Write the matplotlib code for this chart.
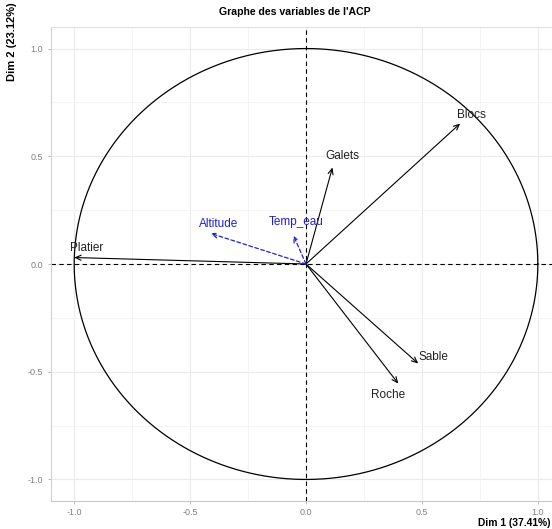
import numpy as np
import matplotlib.pyplot as plt

# correlations des variables avec les axes
actives = ["Platier", "Blocs", "Galets", "Sable", "Roche"]
act_dim1 = [-1.00, 0.665, 0.114, 0.484, 0.398]
act_dim2 = [0.03, 0.652, 0.448, -0.462, -0.555]

supp = ["Altitude", "Temp_eau"]
supp_dim1 = [-0.411, -0.054]
supp_dim2 = [0.142, 0.132]

ticks = [-1.0, -0.5, 0.0, 0.5, 1.0]
tick_labels = ["-1.0", "-0.5", "0.0", "0.5", "1.0"]

# decalage des etiquettes (en points)
offsets = {
    "Platier": (9, 7), "Blocs": (8, 6), "Galets": (7, 8), "Sable": (11, 5),
    "Roche": (-7, -8), "Altitude": (6, 7), "Temp_eau": (2, 10),
}

plt.rcParams["font.family"] = ["Liberation Sans", "DejaVu Sans"]

fig = plt.figure(figsize=(5.52, 5.29), dpi=100)
ax = fig.add_axes([51 / 552, 1 - 501 / 529, 510 / 552, 474 / 529])
ax.set_xlim(-1.1, 1.1)
ax.set_ylim(-1.1, 1.1)

# grille
for v in ticks:
    ax.axvline(v, color="#ebebeb", lw=0.8, zorder=0)
    ax.axhline(v, color="#ebebeb", lw=0.8, zorder=0)
for v in [-0.75, -0.25, 0.25, 0.75]:
    ax.axvline(v, color="#f3f3f3", lw=0.6, zorder=0)
    ax.axhline(v, color="#f3f3f3", lw=0.6, zorder=0)

# cercle des correlations
t = np.linspace(0, 2 * np.pi, 400)
ax.plot(np.cos(t), np.sin(t), color="black", lw=0.9)
ax.axhline(0, color="black", lw=0.8, ls=(0, (4, 3)))
ax.axvline(0, color="black", lw=0.8, ls=(0, (4, 3)))

for name, x, y in zip(actives, act_dim1, act_dim2):
    ax.annotate("", xy=(x, y), xytext=(0, 0),
                arrowprops=dict(arrowstyle="->,head_length=0.4,head_width=0.18",
                                color="black", lw=0.8, shrinkA=0, shrinkB=0))
    ax.annotate(name, xy=(x, y), xytext=offsets[name], textcoords="offset points",
                ha="center", va="center", fontsize=8.5, color="#222222")

for name, x, y in zip(supp, supp_dim1, supp_dim2):
    ax.annotate("", xy=(x, y), xytext=(0, 0),
                arrowprops=dict(arrowstyle="->,head_length=0.4,head_width=0.18",
                                color="#2020d0", lw=0.9, ls=(0, (3, 2)),
                                shrinkA=0, shrinkB=0))
    ax.annotate(name, xy=(x, y), xytext=offsets[name], textcoords="offset points",
                ha="center", va="center", fontsize=8.5, color="#2020d0")

ax.set_xticks(ticks)
ax.set_xticklabels(tick_labels)
ax.set_yticks(ticks)
ax.set_yticklabels(tick_labels)
ax.tick_params(colors="#b0b0b0", labelcolor="#808080", labelsize=6.5, length=2.5, width=0.6)
ax.tick_params(axis="x", pad=2.5)
for s in ax.spines.values():
    s.set_color("#e0e0e0")
    s.set_linewidth(0.8)
ax.spines["left"].set_color("#d0d0d0")
ax.spines["bottom"].set_color("#c8c8c8")

fig.text(295 / 552, 1 - 12 / 529, "Graphe des variables de l'ACP", ha="center", va="center",
         fontsize=7.6, fontweight="bold")
fig.text(550 / 552, 1 - 523 / 529, "Dim 1 (37.41%)", ha="right", va="center",
         fontsize=7.4, fontweight="bold")
fig.text(12 / 552, 1 - 2 / 529, "Dim 2 (23.12%)", ha="center", va="top", rotation=90,
         fontsize=8, fontweight="bold")

fig.savefig("out.png", dpi=100)
